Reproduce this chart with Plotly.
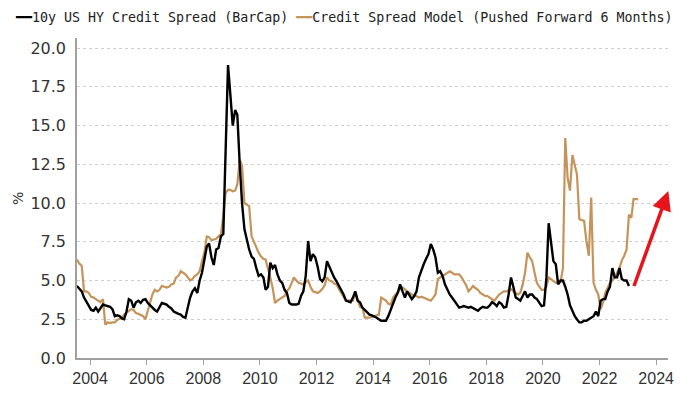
import pandas as pd
import plotly.graph_objects as go

# ---- data (monthly) ----
hy_start = "2003-07-01"
hy_spread = [
    4.65, 4.5, 4.3, 3.9, 3.6, 3.3,                                   # 2003 Jul-Dec
    3.1, 3.05, 3.25, 3.0, 3.2, 3.45, 3.4, 3.35, 3.3, 3.15, 2.7, 2.75,  # 2004
    2.7, 2.55, 2.5, 3.0, 3.8, 3.7, 3.25, 3.6, 3.7, 3.55, 3.75, 3.8,   # 2005
    3.55, 3.4, 3.25, 3.1, 3.0, 3.3, 3.55, 3.5, 3.45, 3.3, 3.2, 3.0,   # 2006
    2.9, 2.85, 2.8, 2.65, 2.6, 3.3, 3.9, 4.3, 4.5, 4.2, 5.0, 5.5,     # 2007
    6.5, 7.2, 7.4, 6.5, 6.0, 7.0, 7.1, 7.85, 8.0, 13.0, 18.9, 17.0,   # 2008
    15.0, 16.0, 15.7, 12.5, 10.0, 8.3, 7.6, 7.0, 6.55, 6.4, 5.8, 5.3, # 2009
    5.4, 5.2, 4.4, 4.6, 6.15, 5.8, 6.0, 5.4, 5.0, 4.85, 4.4, 4.2,     # 2010
    3.55, 3.45, 3.45, 3.45, 3.5, 4.0, 4.3, 5.3, 7.55, 6.25, 6.7, 6.5, # 2011
    5.9, 5.1, 4.95, 5.2, 6.25, 5.9, 5.5, 5.2, 4.95, 4.7, 4.4, 4.1,    # 2012
    3.7, 3.65, 3.6, 3.9, 4.3, 3.7, 3.6, 3.25, 3.1, 2.9, 2.8, 2.75,    # 2013
    2.7, 2.6, 2.5, 2.4, 2.4, 2.4, 2.7, 3.15, 3.5, 3.9, 4.2, 4.75,     # 2014
    4.3, 3.9, 4.3, 4.0, 3.8, 4.0, 4.3, 5.2, 5.7, 6.05, 6.4, 6.7,      # 2015
    7.35, 7.0, 6.5, 5.5, 5.6, 5.3, 4.75, 4.4, 4.1, 3.9, 3.7, 3.5,     # 2016
    3.25, 3.3, 3.35, 3.3, 3.25, 3.3, 3.2, 3.15, 3.05, 3.2, 3.3, 3.25, # 2017
    3.25, 3.4, 3.6, 3.5, 3.35, 3.6, 3.5, 3.25, 3.3, 4.1, 5.2, 4.6,    # 2018
    3.9, 3.8, 3.7, 4.0, 4.3, 3.9, 4.1, 4.1, 3.9, 3.8, 3.6, 3.35,      # 2019
    3.4, 5.2, 8.7, 7.3, 6.25, 6.05, 4.75, 5.0, 5.0, 4.6, 4.1, 3.4,    # 2020
    3.0, 2.7, 2.5, 2.3, 2.3, 2.4, 2.4, 2.5, 2.6, 2.7, 3.0, 2.7,       # 2021
    3.7, 3.8, 3.8, 4.3, 4.6, 5.8, 5.2, 5.2, 5.8, 5.1, 5.0, 5.0,       # 2022
    4.65,                                                            # 2023 Jan
]

model_start = "2003-07-01"
model_spread = [
    6.35, 6.1, 5.95, 4.3, 4.3, 4.2,                                   # 2003 Jul-Dec
    3.95, 3.9, 3.8, 3.7, 3.6, 3.8, 2.15, 2.3, 2.25, 2.3, 2.3, 2.45,   # 2004
    2.5, 2.6, 2.8, 2.9, 3.0, 3.15, 3.1, 2.9, 2.85, 2.8, 2.7, 2.5,     # 2005
    3.0, 3.6, 4.1, 4.4, 4.3, 4.4, 4.65, 4.6, 4.55, 4.6, 4.75, 4.8,    # 2006
    5.2, 5.3, 5.6, 5.5, 5.4, 5.2, 5.0, 5.1, 5.3, 5.4, 5.6, 6.25,      # 2007
    6.8, 7.85, 7.8, 7.6, 7.65, 7.7, 7.85, 8.0, 9.15, 10.65, 10.85, 10.85,  # 2008
    10.75, 10.8, 11.2, 12.8, 12.4, 10.0, 9.9, 9.8, 7.85, 7.5, 7.2, 6.8,    # 2009
    6.55, 6.4, 6.35, 5.8, 5.2, 4.5, 3.55, 3.7, 3.8, 3.9, 4.0, 4.3,    # 2010
    4.5, 4.85, 5.2, 5.0, 4.85, 4.8, 4.75, 4.9, 5.0, 4.6, 4.3, 4.25,   # 2011
    4.2, 4.3, 4.45, 4.7, 5.2, 5.0, 4.95, 4.8, 4.75, 4.45, 4.2, 4.0,   # 2012
    3.7, 3.7, 3.7, 3.7, 4.2, 3.8, 3.3, 3.25, 2.6, 2.6, 2.6, 2.65,     # 2013
    2.7, 2.75, 2.8, 3.9, 3.8, 3.7, 3.5, 3.45, 3.9, 4.1, 4.3, 4.45,    # 2014
    4.55, 4.4, 4.3, 4.2, 4.1, 4.0, 4.0, 3.9, 3.95, 3.9, 3.85, 3.8,    # 2015
    3.7, 3.9, 4.1, 5.1, 5.2, 5.3, 5.4, 5.5, 5.6, 5.5, 5.4, 5.4,       # 2016
    5.4, 5.2, 5.0, 4.7, 4.3, 4.5, 4.65, 4.5, 4.4, 4.2, 4.1, 4.0,      # 2017
    4.0, 3.9, 3.8, 3.7, 3.9, 4.1, 4.2, 4.3, 4.3, 4.4, 4.45, 4.3,      # 2018
    4.2, 4.1, 4.2, 4.75, 5.5, 6.8, 6.5, 6.25, 5.5, 4.85, 4.6, 4.4,    # 2019
    4.4, 4.6, 5.2, 5.1, 5.0, 4.85, 4.9, 4.9, 5.8, 14.2, 11.6, 10.8,   # 2020
    13.1, 12.4, 11.85, 8.95, 8.9, 8.85, 7.55, 6.6, 10.35, 4.85, 4.4, 4.1,  # 2021
    3.15, 3.6, 4.2, 4.5, 4.85, 5.0, 5.2, 5.5, 5.8, 6.3, 6.6, 7.0,     # 2022
    9.25, 9.05, 10.25, 10.25, 10.25,                                  # 2023 Jan-May
]

series_names = [
    "10y US HY Credit Spread (BarCap)",
    "Credit Spread Model (Pushed Forward 6 Months)",
]
y_ticks = [0.0, 2.5, 5.0, 7.5, 10.0, 12.5, 15.0, 17.5, 20.0]
x_tick_years = list(range(2004, 2025, 2))

# arrow (tail -> head) in data units
arrow_tail = ("2023-03-14", 4.55)
arrow_head = ("2024-06-06", 10.77)

BLACK = "#000000"
TAN = "#C4945A"
RED = "#E8141C"

hy_dates = pd.date_range(hy_start, periods=len(hy_spread), freq="MS") + pd.Timedelta(days=14)
model_dates = pd.date_range(model_start, periods=len(model_spread), freq="MS") + pd.Timedelta(days=14)

fig = go.Figure()
fig.add_trace(go.Scatter(x=model_dates, y=model_spread, mode="lines", name=series_names[1],
                         line=dict(color=TAN, width=2.2)))
fig.add_trace(go.Scatter(x=hy_dates, y=hy_spread, mode="lines", name=series_names[0],
                         line=dict(color=BLACK, width=2.4)))

fig.update_layout(
    width=700, height=394,
    margin=dict(l=77, r=32, t=38, b=36, autoexpand=False),
    paper_bgcolor="white", plot_bgcolor="white",
    showlegend=False,
)

fig.update_xaxes(
    range=["2003-07-16", "2024-06-02"],
    tickvals=[pd.Timestamp(f"{y}-01-01") for y in x_tick_years],
    ticktext=[str(y) for y in x_tick_years],
    showgrid=False, zeroline=False, automargin=False,
    showline=True, linecolor="#a0a0a0", linewidth=1.5,
    ticks="outside", ticklen=5, tickcolor="#a0a0a0",
    tickfont=dict(family="Liberation Sans Narrow, Arial Narrow, sans-serif", size=16, color="#333333"),
)
fig.update_yaxes(
    range=[0, 20.65],
    tickvals=y_ticks,
    ticktext=[f"{v:.1f}" for v in y_ticks],
    showgrid=True, gridcolor="#cfcfcf", griddash="dot", gridwidth=1,
    zeroline=False, automargin=False,
    showline=True, linecolor="#a0a0a0", linewidth=1.5,
    ticks="", ticklabelstandoff=6,
    tickfont=dict(family="DejaVu Sans", size=16, color="#333333"),
)

# y-axis unit label
fig.add_annotation(text="%", xref="paper", yref="paper", x=-0.1, y=0.50,
                   xanchor="center", showarrow=False, textangle=-90,
                   font=dict(family="DejaVu Sans", size=14, color="#333333"))

# legend as text line
legend_font = "DejaVu Sans Mono, monospace"
legend_text = (f"<span style='color:{BLACK}'>━━</span>{series_names[0]} "
               f"<span style='color:{TAN}'>━━</span>{series_names[1]}")
fig.add_annotation(text=legend_text, xref="paper", yref="paper",
                   x=-0.109, y=1.0, yshift=21, xanchor="left", yanchor="middle",
                   showarrow=False,
                   font=dict(family=legend_font, size=13.3, color="#222222"))

# red arrow
fig.add_annotation(x=arrow_head[0], y=arrow_head[1], ax=arrow_tail[0], ay=arrow_tail[1],
                   xref="x", yref="y", axref="x", ayref="y",
                   showarrow=True, arrowhead=2, arrowsize=1.1, arrowwidth=3.5,
                   arrowcolor=RED, text="")

fig.write_html("out.html", config={"displayModeBar": False},
               post_script="document.body.style.margin='0px';")
